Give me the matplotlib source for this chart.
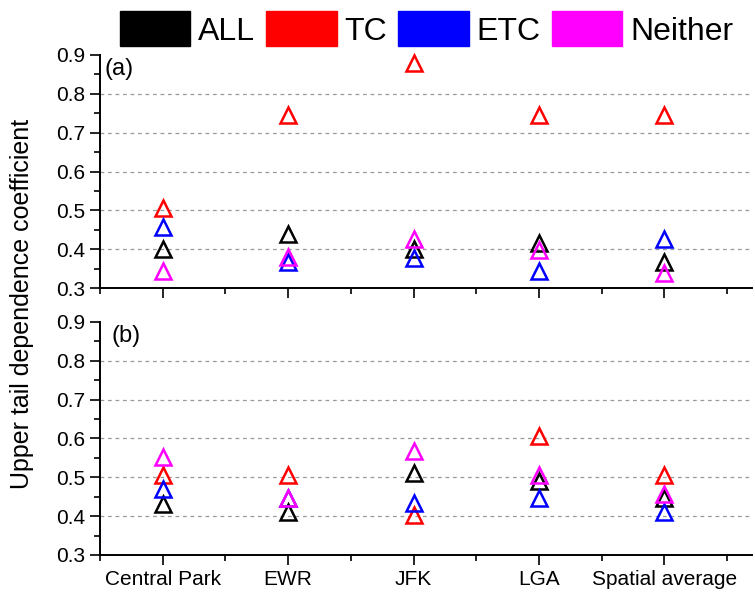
import numpy as np
import matplotlib.pyplot as plt
from matplotlib.patches import Patch
from matplotlib.ticker import MultipleLocator

plt.rcParams['font.family'] = ['Liberation Sans', 'DejaVu Sans']

# Stations along the x axis
sites = ['Central Park', 'EWR', 'JFK', 'LGA', 'Spatial average']

# Upper tail dependence coefficients, panel (a)
all_a = [0.40, 0.438, 0.40, 0.415, 0.368]
tc_a = [0.505, 0.745, 0.88, 0.745, 0.745]
etc_a = [0.458, 0.366, 0.376, 0.345, 0.425]
neither_a = [0.345, 0.379, 0.426, 0.398, 0.338]

# Upper tail dependence coefficients, panel (b)
all_b = [0.431, 0.412, 0.512, 0.49, 0.448]
tc_b = [0.505, 0.505, 0.403, 0.607, 0.505]
etc_b = [0.469, 0.446, 0.434, 0.447, 0.411]  # EWR hidden under Neither
neither_b = [0.552, 0.446, 0.569, 0.505, 0.456]

names = ['ALL', 'TC', 'ETC', 'Neither']
colors = ['black', 'red', 'blue', 'magenta']

fig = plt.figure(figsize=(7.55, 5.92), dpi=100)
ax_a = fig.add_axes([0.1325, 0.5135, 0.8636, 0.3936])
ax_b = fig.add_axes([0.1325, 0.0625, 0.8636, 0.3936])

x = np.arange(1, len(sites) + 1)
yticks = np.round(np.arange(0.3, 0.91, 0.1), 1)

def draw_panel(ax, series, tag, tag_x):
    for vals, c in zip(series, colors):
        ax.plot(x, vals, linestyle='none', marker='^', markersize=11,
                markerfacecolor='none', markeredgecolor=c, markeredgewidth=1.8,
                clip_on=False)
    ax.set_xlim(0.5, 5.7)
    ax.set_ylim(0.3, 0.9)
    ax.set_yticks(yticks)
    ax.set_yticklabels(['%.1f' % t for t in yticks])
    ax.yaxis.set_minor_locator(MultipleLocator(0.05))
    ax.set_xticks(x)
    ax.xaxis.set_minor_locator(MultipleLocator(0.5))
    ax.tick_params(axis='both', which='major', direction='out', length=7,
                   width=1.2, labelsize=15, colors='black')
    ax.tick_params(axis='both', which='minor', direction='out', length=4, width=1.2)
    for s in ['top', 'right']:
        ax.spines[s].set_visible(False)
    for s in ['left', 'bottom']:
        ax.spines[s].set_linewidth(1.4)
    ax.grid(axis='y', linestyle=(0, (3, 3)), color='#999999', linewidth=0.9)
    for t, gl in zip(ax.get_yticks(), ax.get_ygridlines()):
        if t < 0.35 or t > 0.85:
            gl.set_visible(False)
    ax.set_axisbelow(True)
    ax.text(tag_x, 0.865, tag, fontsize=17, va='center', ha='left')

draw_panel(ax_a, [all_a, tc_a, etc_a, neither_a], '(a)', 0.535)
draw_panel(ax_b, [all_b, tc_b, etc_b, neither_b], '(b)', 0.595)

ax_a.set_xticklabels([])
ax_b.set_xticklabels(sites)

fig.text(0.029, 0.486, 'Upper tail dependence coefficient', rotation=90,
         ha='center', va='center', fontsize=18)

handles = [Patch(facecolor=c, edgecolor=c) for c in colors]
fig.legend(handles, names, loc='center', bbox_to_anchor=(0.565, 0.951), ncol=4,
           frameon=False, fontsize=23, handlelength=2.2, handleheight=1.3,
           handletextpad=0.25, columnspacing=0.35, borderpad=0)

fig.savefig('out.png', dpi=100)
